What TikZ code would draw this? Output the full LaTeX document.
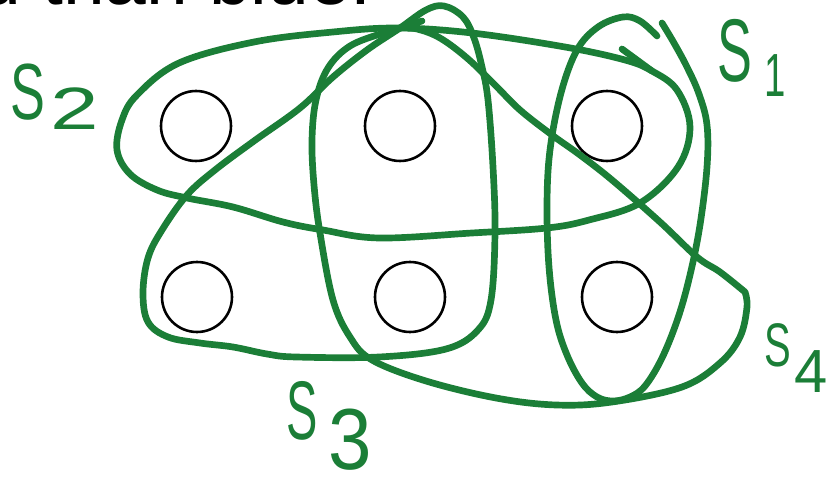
\documentclass[tikz,border=0pt]{standalone}
\usepackage{graphicx}
\usepackage{fontspec}
\setmainfont{Liberation Sans}
\usepackage{tikz}
\usetikzlibrary{positioning}
\definecolor{penGreen}{RGB}{27,126,55}

\begin{document}
\begin{tikzpicture}[x=0.03cm, y=-0.03cm]
\tikzstyle{v} = [circle, draw=black, line width=2.2pt, minimum size=2.1cm, inner sep=0pt]
\tikzstyle{hand} = [draw=penGreen, line width=5.7pt, line cap=round, line join=round]
\tikzstyle{lbl} = [text=penGreen, inner sep=0pt, anchor=base west]
\useasboundingbox (0,0) rectangle (830,489);
\clip (0,0) rectangle (830,489);
% last line of the slide text, cut by the top edge
\node [anchor=base east, inner sep=0pt, font=\fontsize{64}{70}\selectfont] (head) at (372,5) {d than blue.};
% the six elements
\node [v] (e1) at (196,126) {};
\node [v] (e2) at (400,126) {};
\node [v] (e3) at (607,126) {};
\node [v] (e4) at (197,297) {};
\node [v] (e5) at (410,297) {};
\node [v] (e6) at (617,297) {};
% S1
\draw [hand] plot [smooth, tension=0.6] coordinates {(657,36) (640,21) (623,17) (598,27) (577,50) (561,93) (550,150) (547,205) (549,267) (556,320) (567,355) (582,383) (597,397) (613,401) (630,397) (645,386) (662,358) (678,318) (690,275) (700,225) (707,167) (707,125) (699,94) (687,67) (674,43) (662,23)};
% S2
\draw [hand] plot [smooth cycle, tension=0.6] coordinates {(652,71) (677,90) (690,127) (678,167) (640,203) (589,220) (547,228) (472,233) (379,238) (323,230) (283,222) (233,207) (187,198) (157,190) (130,174) (117,150) (122,120) (137,95) (179,63) (254,42) (333,32) (398,28) (472,33) (565,47) (625,60)};
\draw [hand] (622,49) -- (652,71);
% S3
\draw [hand] plot [smooth cycle, tension=0.6] coordinates {(400,28) (426,10) (444,6) (463,17) (474,38) (482,67) (488,100) (493,167) (495,233) (491,300) (478,330) (446,349) (379,357) (296,357) (267,354) (233,347) (200,343) (168,337) (148,322) (143,293) (148,258) (162,230) (187,195) (215,170) (254,141) (300,108) (333,77) (367,50)};
\draw [hand] (405,26) -- (422,21);
% S4
\draw [hand] plot [smooth, tension=0.6] coordinates {(400,28) (383,33) (350,46) (328,68) (316,100) (312,140) (314,185) (320,233) (333,300) (350,337) (372,360) (426,381) (496,398) (556,405) (612,402) (682,387) (720,363) (740,337) (747,307) (745,292)}
  plot [smooth, tension=0.6] coordinates {(745,292) (720,272) (697,257) (660,222) (612,180) (580,155) (552,135) (520,110) (495,85) (467,58) (440,38) (417,29) (400,28)};
% set names
\node [lbl, font=\fontsize{68}{68}\selectfont] (s2) at (10.6,120) {\scalebox{.656}[1]{S}\kern4.3pt\raisebox{-8.5pt}{\fontsize{51}{51}\selectfont\scalebox{1.46}[1]{2}}};
\node [lbl, font=\fontsize{76}{76}\selectfont] (s1) at (717.6,82) {\scalebox{.587}[1]{S}\kern9.7pt\raisebox{-12.8pt}{\fontsize{52}{52}\selectfont\scalebox{.63}[1]{1}}};
\node [lbl, font=\fontsize{71}{71}\selectfont] (s3) at (285.8,440) {\scalebox{.565}[1]{S}\kern9.6pt\raisebox{-25pt}{\fontsize{74}{74}\selectfont\scalebox{.9}[1]{3}}};
\node [lbl, font=\fontsize{52.5}{52.5}\selectfont] (s4) at (764,367) {\scalebox{.65}[1]{S}\kern3pt\raisebox{-22pt}{\fontsize{52}{52}\selectfont\scalebox{.98}[1]{4}}};
\end{tikzpicture}
\end{document}
